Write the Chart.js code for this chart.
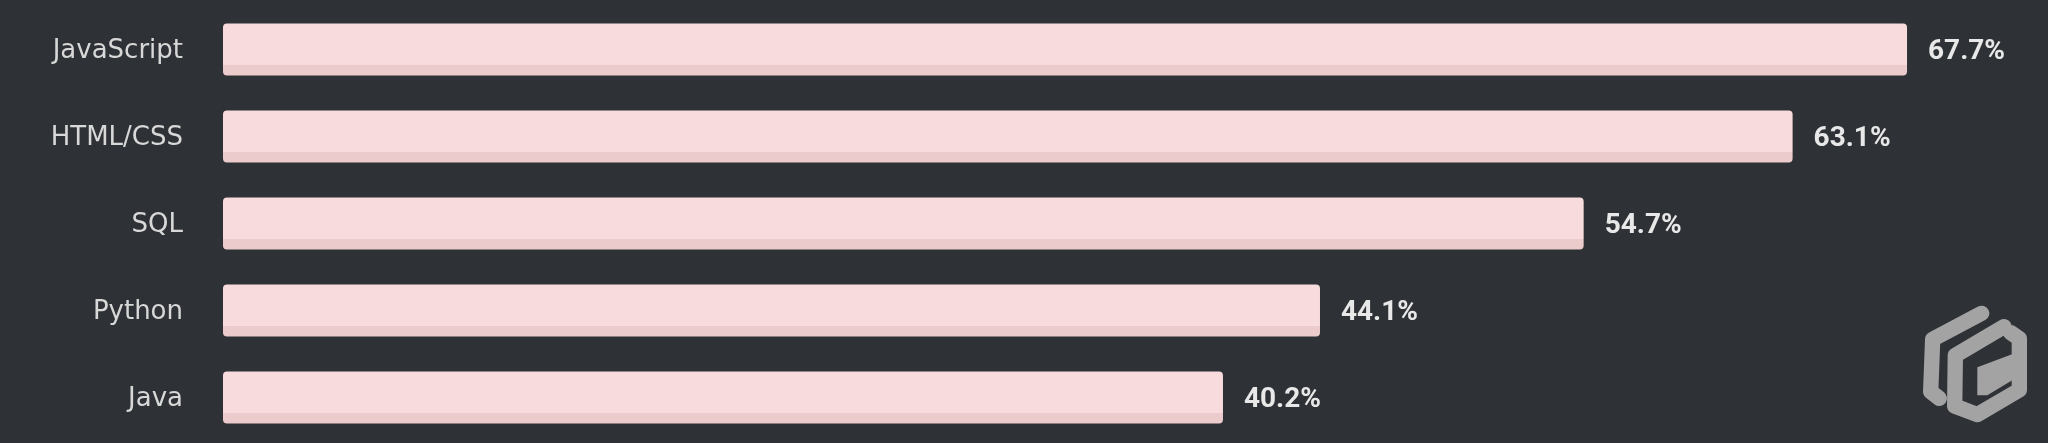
<!DOCTYPE html>
<html>
<head>
<meta charset="utf-8">
<script src="https://cdn.jsdelivr.net/npm/chart.js@4/dist/chart.umd.min.js"></script>
<style>
    html, body { margin: 0; padding: 0; background: #2e3135; }
    #wrap { position: relative; width: 2048px; height: 443px; }
    #logo { position: absolute; left: 1880px; top: 280px; }
</style>
</head>
<body>
<div id="wrap">
    <canvas id="chart" width="2048" height="443"></canvas>
    <svg id="logo" width="168" height="163" viewBox="0 0 504 489">
        <g fill="none" stroke="#a3a3a3" stroke-width="46" stroke-linejoin="round" stroke-linecap="round">
            <path d="M305 100 L158 178 L152 335 L178 355"/>
            <path d="M372 140 L226 226 L224 378 L292 404 L418 330 L418 176 L392 158"/>
        </g>
        <polygon fill="#a3a3a3" points="292,262 398,222 398,300 322,346 292,346"/>
    </svg>
</div>
<script>
// ============================================================
// Most used languages - horizontal bar chart
// ============================================================
const languages = ['JavaScript', 'HTML/CSS', 'SQL', 'Python', 'Java'];
const shares = [67.7, 63.1, 54.7, 44.1, 40.2];

const BAR_FILL = '#f8dcdd';
const BAR_SHADE = '#eccbcc';
const BAR_PCT = 0.6;
const SHADE_PX = 11;

// two-tone fill: light top, darker strip along the bottom of each bar
function barFill(context) {
    const chart = context.chart;
    const y = chart.scales.y;
    if (!y || context.dataIndex === undefined) return BAR_FILL;
    const center = y.getPixelForValue(context.dataIndex);
    const half = (y.bottom - y.top) / languages.length * BAR_PCT / 2;
    if (!isFinite(center) || !isFinite(half) || half <= SHADE_PX / 2) return BAR_FILL;
    const g = chart.ctx.createLinearGradient(0, center - half, 0, center + half);
    const cut = 1 - SHADE_PX / (half * 2);
    g.addColorStop(0, BAR_FILL);
    g.addColorStop(cut, BAR_FILL);
    g.addColorStop(cut, BAR_SHADE);
    g.addColorStop(1, BAR_SHADE);
    return g;
}

// draws "xx.x%" right of every bar, from the bar elements themselves
const valueLabels = {
    id: 'valueLabels',
    afterDatasetsDraw(chart) {
        const ctx = chart.ctx;
        const meta = chart.getDatasetMeta(0);
        ctx.save();
        ctx.font = 'bold 28px Roboto, "Liberation Sans", sans-serif';
        ctx.fillStyle = '#e8e8e8';
        ctx.textAlign = 'left';
        ctx.textBaseline = 'middle';
        meta.data.forEach((bar, i) => {
            ctx.fillText(shares[i].toFixed(1) + '%', bar.x + 21, bar.y + 2);
        });
        ctx.restore();
    }
};

new Chart(document.getElementById('chart'), {
    type: 'bar',
    data: {
        labels: languages,
        datasets: [{
            data: shares,
            backgroundColor: barFill,
            borderWidth: 0,
            borderRadius: 4,
            borderSkipped: false,
            barPercentage: BAR_PCT,
            categoryPercentage: 1
        }]
    },
    options: {
        indexAxis: 'y',
        responsive: false,
        animation: false,
        layout: { padding: { top: 6, right: 34, bottom: 2, left: 0 } },
        plugins: {
            legend: { display: false },
            tooltip: { enabled: false }
        },
        scales: {
            x: {
                display: false,
                min: 0,
                max: 72
            },
            y: {
                // fixed axis width, and no extra vertical padding for the labels
                afterFit: (s) => {
                    s.width = 223;
                    s.paddingTop = 0;
                    s.paddingBottom = 0;
                },
                border: { display: false },
                grid: { display: false, drawTicks: false },
                ticks: {
                    color: '#d8d8d8',
                    font: { family: '"DejaVu Sans", sans-serif', size: 26 },
                    padding: 40,
                    labelOffset: 2
                }
            }
        }
    },
    plugins: [valueLabels]
});
</script>
</body>
</html>
